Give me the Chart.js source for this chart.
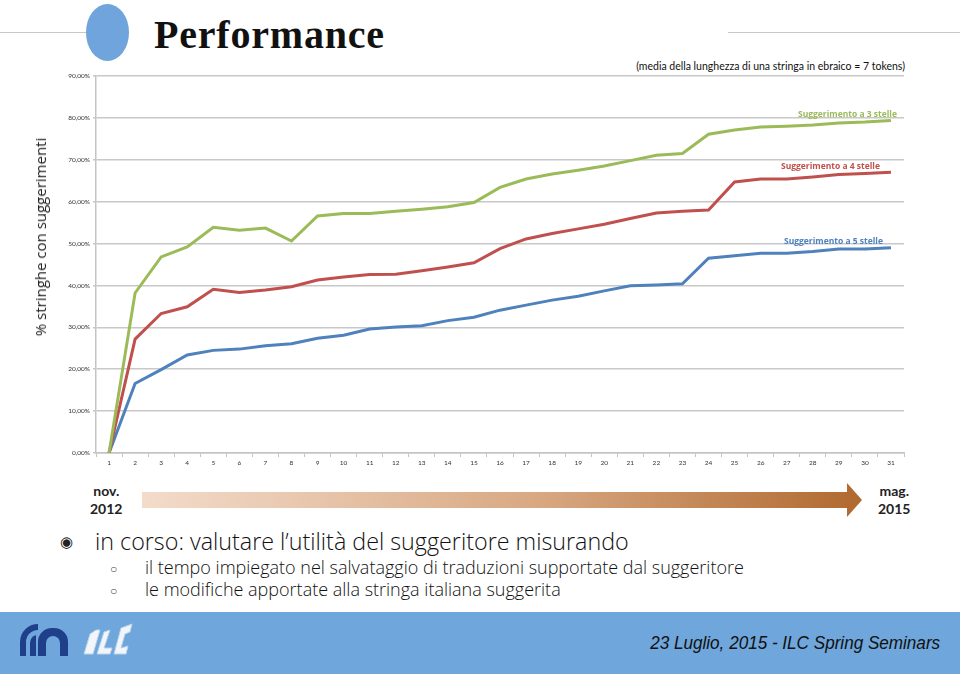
<!DOCTYPE html>
<html>
<head>
<meta charset="utf-8">
<script src="https://cdn.jsdelivr.net/npm/chart.js@4.4.0/dist/chart.umd.min.js"></script>
<style>
  html, body { margin: 0; padding: 0; background: #fff; }
  body { width: 960px; height: 674px; position: relative; overflow: hidden; font-family: "Open Sans", sans-serif; }
  .rule { position: absolute; top: 32px; height: 1px; background: #c8c8c8; }
  .dot { position: absolute; left: 86px; top: 4px; width: 43px; height: 57px; border-radius: 50%; background: #6fa5dc; }
  .title { position: absolute; left: 154px; top: 11px; font-family: "Liberation Serif", serif; font-weight: bold; font-size: 40px; letter-spacing: 0.8px; color: #111; }
  .sub { position: absolute; right: 55px; top: 60px; font-family: Lato, sans-serif; font-size: 10.5px; color: #111; }
  .ytitle { position: absolute; left: 40px; top: 237px; transform: translate(-50%, -50%) rotate(-90deg); white-space: nowrap;
    font-family: "Open Sans", sans-serif; font-size: 15px; color: #222; }
  #box { position: absolute; left: 0; top: 66px; width: 920px; height: 410px; }
  .date { position: absolute; font-family: Lato, sans-serif; font-weight: bold; font-size: 14px; line-height: 18px; text-align: center; color: #222; }
  .arrow { position: absolute; left: 142px; top: 483px; width: 720px; height: 34px;
    background: linear-gradient(to right, #f3dccb, #d8a882 55%, #b0692f);
    clip-path: polygon(0 9px, 705px 9px, 705px 0, 720px 17px, 705px 34px, 705px 25px, 0 25px); }
  .b1 { position: absolute; left: 95px; top: 525px; font-family: "Open Sans", sans-serif; font-weight: 300; font-size: 23.3px; letter-spacing: 0px; color: #111; }
  .b2 { position: absolute; left: 145px; font-family: "Open Sans", sans-serif; font-weight: 300; font-size: 18px; letter-spacing: 0px; color: #111; }
  .m1 { position: absolute; left: 60px; top: 531px; font-size: 15px; color: #222; }
  .m2 { position: absolute; left: 110px; font-size: 12px; color: #444; }
  .foot { position: absolute; left: 0; top: 612px; width: 960px; height: 62px; background: #6fa6db; }
  .ftext { position: absolute; right: 20px; top: 632px; font-family: "Liberation Sans", sans-serif; font-style: italic; font-size: 19px; color: #111;
    transform: scaleX(0.9); transform-origin: right center; }
</style>
</head>
<body>
<div class="rule" style="left:0;width:86px"></div>
<div class="rule" style="left:728px;width:232px"></div>
<div class="dot"></div>
<div class="title">Performance</div>
<div class="sub">(media della lunghezza di una stringa in ebraico = 7 tokens)</div>

<div id="box"><canvas id="chart-grafico-1"></canvas></div>
<div class="ytitle">% stringhe con suggerimenti</div>

<div class="date" style="left:90px;top:482px">nov.<br>2012</div>
<div class="arrow"></div>
<div class="date" style="left:878px;top:482px">mag.<br>2015</div>

<div class="m1">◉</div>
<div class="b1">in corso: valutare l’utilità del suggeritore misurando</div>
<div class="m2" style="top:560px">○</div>
<div class="b2" style="top:555px">il tempo impiegato nel salvataggio di traduzioni supportate dal suggeritore</div>
<div class="m2" style="top:582px">○</div>
<div class="b2" style="top:577px">le modifiche apportate alla stringa italiana suggerita</div>

<div class="foot">
  <svg width="160" height="62" style="position:absolute;left:0;top:0">
    <path d="M38 44 V30 A14 14 0 0 1 52 16 H54 A14 14 0 0 1 68 30 V44 H60 V31 A7 7 0 0 0 53 24 A7 7 0 0 0 46 31 V44 Z" fill="#1f3f8a"/>
    <path d="M20 44 V30 A18 18 0 0 1 38 12 V18 A12 12 0 0 0 26 30 V44 Z" fill="#1f3f8a"/>
    <path d="M30 44 V31 A9 9 0 0 1 36 23 V44 Z" fill="#1f3f8a"/>
    <g fill="#f2f6fa" stroke="#b9d3ea" stroke-width="1">
      <path d="M84 42 L90 22 L96 18 L100 18 L93 42 Z"/>
      <path d="M97 42 L104 20 L110 18 L104 36 L112 36 L110 42 Z"/>
      <path d="M114 42 L121 16 L132 12 L130 20 L125 22 L121 36 L128 34 L126 42 Z"/>
    </g>
  </svg>
</div>
<div class="ftext">23 Luglio, 2015 - ILC Spring Seminars</div>

<script>
const namegrafico = 'chart-grafico-';

const giorni = ['1','2','3','4','5','6','7','8','9','10','11','12','13','14','15','16','17','18','19','20','21','22','23','24','25','26','27','28','29','30','31'];

const stelle3 = [0, 38.2, 46.8, 49.2, 53.9, 53.2, 53.7, 50.6, 56.6, 57.2, 57.2, 57.7, 58.2, 58.8, 59.8, 63.4, 65.4, 66.6, 67.5, 68.5, 69.8, 71.1, 71.5, 76.1, 77.1, 77.8, 78.0, 78.3, 78.8, 79.0, 79.4];
const stelle4 = [0, 27.2, 33.3, 34.9, 39.1, 38.3, 38.9, 39.7, 41.3, 42.0, 42.6, 42.7, 43.5, 44.4, 45.4, 48.8, 51.1, 52.4, 53.5, 54.6, 56.0, 57.3, 57.7, 58.0, 64.7, 65.4, 65.4, 65.9, 66.5, 66.7, 67.0];
const stelle5 = [0, 16.6, 19.9, 23.4, 24.5, 24.8, 25.6, 26.1, 27.4, 28.1, 29.6, 30.1, 30.4, 31.6, 32.4, 34.1, 35.3, 36.5, 37.4, 38.7, 39.9, 40.1, 40.4, 46.5, 47.1, 47.7, 47.7, 48.1, 48.7, 48.7, 49.0];

const nomiSerie = ['Suggerimento a 3 stelle', 'Suggerimento a 4 stelle', 'Suggerimento a 5 stelle'];
const colori = ['#9bbb59', '#c0504d', '#4f81bd'];

// etichette delle serie vicino all'ultimo punto
const etichette = {
  id: 'etichette',
  afterDatasetsDraw(chart) {
    const ctx = chart.ctx;
    const spost = [6, -11, -8];
    ctx.save();
    ctx.font = 'bold 8.5px "Open Sans", sans-serif';
    ctx.textAlign = 'right';
    ctx.textBaseline = 'bottom';
    chart.data.datasets.forEach((ds, i) => {
      const pts = chart.getDatasetMeta(i).data;
      const p = pts[pts.length - 1];
      ctx.fillStyle = ds.borderColor;
      ctx.fillText(ds.label, p.x + spost[i], p.y - 2);
    });
    ctx.restore();
  }
};

const grafico1 = () => {
  const ctx = document.getElementById(`${namegrafico}1`);
  new Chart(ctx, {
    type: 'line',
    data: {
      labels: giorni,
      datasets: [
        { label: nomiSerie[0], data: stelle3, borderColor: colori[0] },
        { label: nomiSerie[1], data: stelle4, borderColor: colori[1] },
        { label: nomiSerie[2], data: stelle5, borderColor: colori[2] }
      ]
    },
    options: {
      responsive: true,
      maintainAspectRatio: false,
      animation: false,
      layout: { padding: { top: 10, right: 16, left: 0, bottom: 0 } },
      elements: {
        line: { borderWidth: 3, tension: 0, fill: false },
        point: { radius: 0 }
      },
      plugins: { legend: { display: false }, tooltip: { enabled: false } },
      scales: {
        x: {
          offset: true,
          grid: { offset: true, drawOnChartArea: false, tickLength: 4, color: '#c4c4c4' },
          border: { color: '#c4c4c4', width: 1.5 },
          ticks: { padding: 2, color: '#333', font: { size: 6.5, family: 'Lato' }, maxRotation: 0, autoSkip: false },
          afterFit: (s) => { s.height = 23; }
        },
        y: {
          min: 0,
          max: 90,
          ticks: { stepSize: 10, padding: 3, color: '#333', font: { size: 6.5, family: 'Lato' },
                   callback: (v) => v.toFixed(2).replace('.', ',') + '%' },
          grid: { color: '#c8c8c8', lineWidth: 1.5, tickLength: 3 },
          border: { color: '#c4c4c4', width: 1.5 },
          afterFit: (s) => { s.width = 96; }
        }
      }
    },
    plugins: [etichette]
  });
};

grafico1();
</script>
</body>
</html>
